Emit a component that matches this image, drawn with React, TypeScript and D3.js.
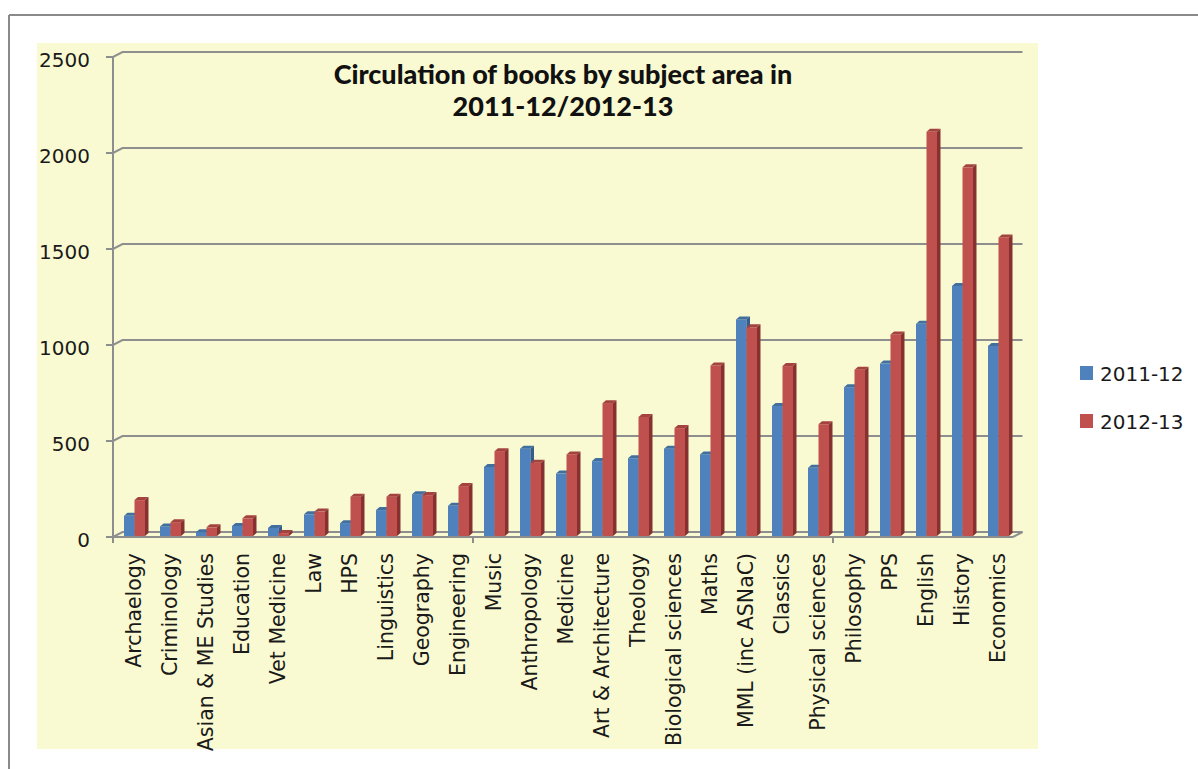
import React from "react";
import { scaleBand, scaleLinear } from "d3";

const categories = [
  "Archaelogy", "Criminology", "Asian & ME Studies", "Education", "Vet Medicine",
  "Law", "HPS", "Linguistics", "Geography", "Engineering", "Music", "Anthropology",
  "Medicine", "Art & Architecture", "Theology", "Biological sciences", "Maths",
  "MML (inc ASNaC)", "Classics", "Physical sciences", "Philosophy", "PPS",
  "English", "History", "Economics",
];
const series = ["2011-12", "2012-13"];
const values2011 = [105, 50, 20, 52, 42, 113, 67, 135, 218, 157, 360, 455, 325, 390, 405, 455, 425, 1128, 677, 355, 775, 898, 1105, 1302, 990];
const values2012 = [187, 72, 45, 92, 15, 127, 205, 205, 213, 260, 442, 382, 425, 692, 620, 562, 888, 1087, 885, 582, 866, 1050, 2105, 1920, 1555];
const yTicks = [0, 500, 1000, 1500, 2000, 2500];

const front = { blue: "#4f81bd", red: "#c0504d" };
const topC = { blue: "#41709f", red: "#a4423f" };
const sideC = { blue: "#355d8c", red: "#853130" };
const grid = "#8e8e8e";
const font = "'DejaVu Sans', Verdana, sans-serif";

export default function App() {
  const x = scaleBand<string>().domain(categories).range([113, 1013]);
  const xs = scaleBand<string>().domain(series).range([11, 32]);
  const y = scaleLinear().domain([0, 2500]).range([537, 57]);
  const ddx = 9.5, ddy = 5; // back wall offset
  const bdx = 3.5, bdy = 3; // bar depth
  const cols = [
    { key: series[0], vals: values2011, c: "blue" as const },
    { key: series[1], vals: values2012, c: "red" as const },
  ];
  const x0 = 113, x1 = 1013;

  return (
    <div style={{ position: "absolute", left: 0, top: 0 }}>
      <svg width={1198} height={769} style={{ display: "block" }}>
        <rect width={1198} height={769} fill="#fff" />
        <line x1={9} y1={15} x2={1198} y2={15} stroke="#8a8a8a" strokeWidth={2} />
        <line x1={9} y1={15} x2={9} y2={769} stroke="#8a8a8a" strokeWidth={2} />
        <rect x={37} y={43} width={1001} height={706} fill="#fafad2" />

        {/* back wall gridlines */}
        {yTicks.map((v) => (
          <g key={v} fill="none" stroke={grid} strokeWidth={2}>
            <polyline points={`${x0 - 7},${y(v)} ${x0},${y(v)} ${x0 + ddx},${y(v) - ddy} ${x1 + ddx},${y(v) - ddy}`} />
          </g>
        ))}
        {/* floor */}
        <g fill="none" stroke={grid} strokeWidth={2}>
          <line x1={x0 - 7} y1={y(0)} x2={x1} y2={y(0)} />
          <line x1={x1} y1={y(0)} x2={x1 + ddx} y2={y(0) - ddy} />
          <line x1={x0} y1={y(2500)} x2={x0} y2={y(0) + 6} />
          {[0, 10, 20].map((i) => (
            <line key={i} x1={x(categories[i])!} y1={y(0)} x2={x(categories[i])!} y2={y(0) + 6} />
          ))}
        </g>

        {/* bars */}
        {categories.map((cat, i) => (
          <g key={cat}>
            {cols.map((s) => {
              const bx = (x(cat) ?? 0) + (xs(s.key) ?? 0);
              const w = xs.bandwidth();
              const top = y(s.vals[i]) - 1;
              const bot = y(0) - 1;
              return (
                <g key={s.key}>
                  <rect x={bx} y={top} width={w} height={bot - top} fill={front[s.c]} />
                  <polygon points={`${bx},${top} ${bx + bdx},${top - bdy} ${bx + w + bdx},${top - bdy} ${bx + w},${top}`} fill={topC[s.c]} />
                  <polygon points={`${bx + w},${top} ${bx + w + bdx},${top - bdy} ${bx + w + bdx},${bot - bdy} ${bx + w},${bot}`} fill={sideC[s.c]} />
                </g>
              );
            })}
          </g>
        ))}

        {/* y tick labels */}
        {yTicks.map((v) => (
          <text key={v} x={90} y={y(v) + 10} textAnchor="end" fontFamily={font} fontSize={20} fill="#1a1a1a">
            {v}
          </text>
        ))}

        {/* x labels */}
        {categories.map((cat) => (
          <text
            key={cat}
            transform={`translate(${(x(cat) ?? 0) + 21},553) rotate(-90)`}
            dy="0.35em"
            textAnchor="end"
            fontFamily={font}
            fontSize={20.5}
            fill="#1a1a1a"
          >
            {cat}
          </text>
        ))}

        {/* title */}
        <g fontFamily="Lato, 'Open Sans', sans-serif" fontWeight="900" fontSize={27} textAnchor="middle" fill="#111">
          <text x={563} y={84}>Circulation of books by subject area in</text>
          <text x={563} y={116}>2011-12/2012-13</text>
        </g>

        {/* legend */}
        {cols.map((s, i) => (
          <g key={s.key}>
            <rect x={1080} y={366 + i * 48} width={13} height={14} fill={front[s.c]} />
            <text x={1100} y={381 + i * 48} fontFamily={font} fontSize={20} fill="#1a1a1a">
              {s.key}
            </text>
          </g>
        ))}
      </svg>
    </div>
  );
}
